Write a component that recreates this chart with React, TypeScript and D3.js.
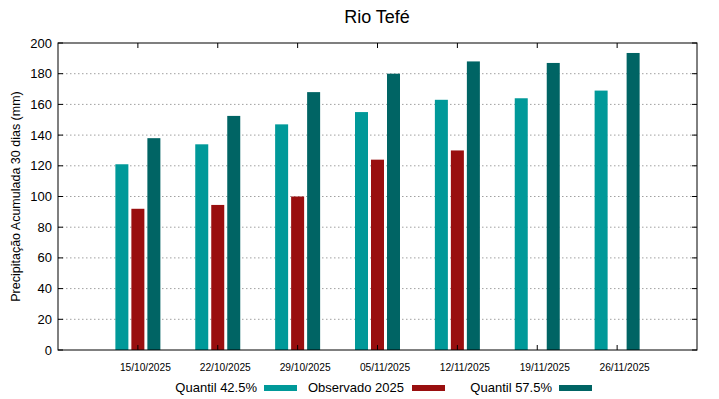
import React from "react";
import * as d3 from "d3";

const categories = ["15/10/2025", "22/10/2025", "29/10/2025", "05/11/2025", "12/11/2025", "19/11/2025", "26/11/2025"];
const quantil425 = [121, 134, 147, 155, 163, 164, 169];
const observado2025: (number | null)[] = [92, 94.5, 100, 124, 130, null, null];
const quantil575 = [138, 152.5, 168, 180, 188, 187, 193.5];
const yTicks = [0, 20, 40, 60, 80, 100, 120, 140, 160, 180, 200];
const seriesNames = ["Quantil 42.5%", "Observado 2025", "Quantil 57.5%"];
const colors = ["#009999", "#990f0f", "#006464"];

export default function App() {
  const W = 719, H = 399;
  const left = 58, right = 697, top = 43, bottom = 350;
  const x = d3.scaleLinear().domain([-1, 7]).range([left, right]);
  const y = d3.scaleLinear().domain([0, 200]).range([bottom, top]);
  const bw = 13;
  const offsets = [-16, 0, 16];
  const series = [quantil425, observado2025, quantil575];
  const font = "Liberation Sans, Arial, sans-serif";

  return (
    <svg width={W} height={H} style={{ position: "absolute", left: 0, top: 0 }} fontFamily={font}>
      <rect width={W} height={H} fill="#fff" />
      <text x={377} y={23} textAnchor="middle" fontSize={18} fill="#000">Rio Tefé</text>
      {yTicks.slice(1, -1).map((t) => (
        <line key={"g" + t} x1={left} x2={right} y1={y(t)} y2={y(t)} stroke="#a0a0a0" strokeWidth={1} strokeDasharray="1.5,2.5" />
      ))}
      {series.map((s, si) =>
        s.map((v, i) =>
          v == null ? null : (
            <rect key={si + "-" + i} x={x(i) + offsets[si] - bw / 2} y={y(v)} width={bw} height={y(0) - y(v)} fill={colors[si]} />
          )
        )
      )}
      {yTicks.map((t) => (
        <g key={"t" + t}>
          <line x1={left} x2={left + 5} y1={y(t)} y2={y(t)} stroke="#000" />
          <line x1={right - 5} x2={right} y1={y(t)} y2={y(t)} stroke="#000" />
          <text x={52} y={y(t) + 4.5} textAnchor="end" fontSize={13} fill="#000">{t}</text>
        </g>
      ))}
      {categories.map((c, i) => (
        <g key={"c" + i}>
          <line x1={x(i)} x2={x(i)} y1={top} y2={top + 5} stroke="#000" />
          <line x1={x(i)} x2={x(i)} y1={bottom} y2={bottom - 5} stroke="#000" />
          <text x={x(i) + 7.5} y={371} textAnchor="middle" fontSize={10.2} fill="#000">{c}</text>
        </g>
      ))}
      <rect x={left} y={top} width={right - left} height={bottom - top} fill="none" stroke="#000" strokeWidth={1} />
      <text transform={`translate(20,${(top + bottom) / 2}) rotate(-90)`} textAnchor="middle" fontSize={12.5} fill="#000">
        Precipitação Acumulada 30 dias (mm)
      </text>
      {[
        { tx: 257, sx: 264 },
        { tx: 404, sx: 412 },
        { tx: 552, sx: 559 },
      ].map((l, i) => (
        <g key={"l" + i}>
          <text x={l.tx} y={392} textAnchor="end" fontSize={13} fill="#000">{seriesNames[i]}</text>
          <rect x={l.sx} y={385} width={33} height={6} fill={colors[i]} />
        </g>
      ))}
    </svg>
  );
}
